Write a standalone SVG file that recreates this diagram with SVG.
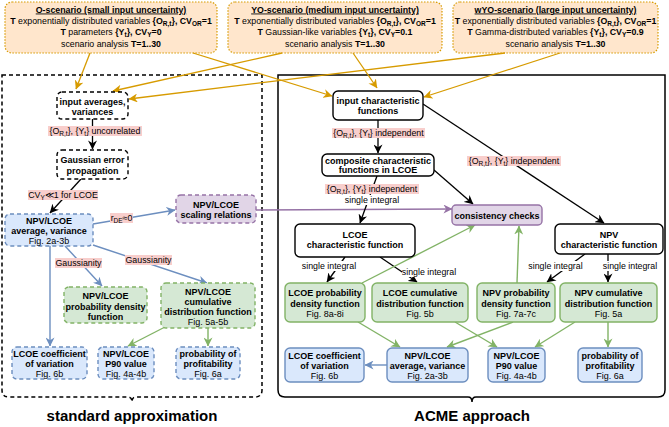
<svg xmlns="http://www.w3.org/2000/svg" width="669" height="427" viewBox="0 0 669 427">
<style>
text{font-family:"Liberation Sans",Arial,Helvetica,sans-serif;fill:#000}
.sc{font-size:8.8px;text-anchor:middle}
.b{font-weight:bold}
.n{font-size:9px;font-weight:bold;text-anchor:middle}
.f{font-weight:normal}
.lb{font-size:8.8px;text-anchor:middle}
.big{font-size:15px;font-weight:bold;text-anchor:middle}
.scen{fill:#ffe6cc;stroke:#d79b00;stroke-width:1.2;stroke-dasharray:1.5 1.5}
.kd{fill:#fff;stroke:#000;stroke-width:1.4;stroke-dasharray:4 3}
.ks{fill:#fff;stroke:#000;stroke-width:1.4}
.bd{fill:#dae8fc;stroke:#6c8ebf;stroke-width:1.4;stroke-dasharray:4 3}
.bs{fill:#dae8fc;stroke:#6c8ebf;stroke-width:1.4}
.gd{fill:#d5e8d4;stroke:#82b366;stroke-width:1.4;stroke-dasharray:4 3}
.gs{fill:#d5e8d4;stroke:#82b366;stroke-width:1.4}
.pd{fill:#e1d5e7;stroke:#9673a6;stroke-width:1.4;stroke-dasharray:4 3}
.ps{fill:#e1d5e7;stroke:#9673a6;stroke-width:1.4}
.eo{stroke:#d79b00;stroke-width:1.3;fill:none;marker-end:url(#mo)}
.ek{stroke:#000;stroke-width:1.3;fill:none;marker-end:url(#mk)}
.eb{stroke:#6c8ebf;stroke-width:1.4;fill:none;marker-end:url(#mb)}
.eg{stroke:#82b366;stroke-width:1.4;fill:none;marker-end:url(#mg)}
.ep{stroke:#9673a6;stroke-width:1.4;fill:none;marker-end:url(#mp)}
.pk{fill:#f8cecc}
.wh{fill:#fff}
</style>
<defs>
<marker id="mo" viewBox="0 0 10 10" refX="9.5" refY="5" markerWidth="9" markerHeight="9" orient="auto" markerUnits="userSpaceOnUse"><path d="M0,0 L10,5 L0,10 L3,5 z" fill="#d79b00"/></marker>
<marker id="mk" viewBox="0 0 10 10" refX="9.5" refY="5" markerWidth="9" markerHeight="9" orient="auto" markerUnits="userSpaceOnUse"><path d="M0,0 L10,5 L0,10 L3,5 z" fill="#000"/></marker>
<marker id="mb" viewBox="0 0 10 10" refX="9.5" refY="5" markerWidth="9" markerHeight="9" orient="auto" markerUnits="userSpaceOnUse"><path d="M0,0 L10,5 L0,10 L3,5 z" fill="#6c8ebf"/></marker>
<marker id="mg" viewBox="0 0 10 10" refX="9.5" refY="5" markerWidth="9" markerHeight="9" orient="auto" markerUnits="userSpaceOnUse"><path d="M0,0 L10,5 L0,10 L3,5 z" fill="#82b366"/></marker>
<marker id="mp" viewBox="0 0 10 10" refX="9.5" refY="5" markerWidth="9" markerHeight="9" orient="auto" markerUnits="userSpaceOnUse"><path d="M0,0 L10,5 L0,10 L3,5 z" fill="#9673a6"/></marker>
</defs>
<rect width="669" height="427" fill="#fff"/>

<g id="panels">
<path d="M2,75 H262 V390 Q262,397 255,397 H136 Q132,397 132,402 Q132,397 128,397 H9 Q2,397 2,390 Z" fill="none" stroke="#000" stroke-width="1.5" stroke-dasharray="4 3"/>
<path d="M278,75 H665 V390 Q665,397 658,397 H476 Q472,397 472,402 Q472,397 468,397 H285 Q278,397 278,390 Z" fill="none" stroke="#000" stroke-width="1.5"/>
<text class="big" x="132" y="421">standard approximation</text>
<text class="big" x="472" y="421">ACME approach</text>
</g>

<g id="scenario-O">
<rect class="scen" x="5" y="2" width="212" height="51" rx="7"/>
<text class="sc b" x="111" y="12.5" text-decoration="underline">O-scenario (small input uncertainty)</text>
<text class="sc" x="111" y="23.5"><tspan class="b">T</tspan> exponentially distributed variables <tspan class="b">{O<tspan font-size="6.5" dy="2">R,t</tspan><tspan dy="-2">}, CV</tspan><tspan font-size="6.5" dy="2">OR</tspan><tspan dy="-2">=1</tspan></tspan></text>
<text class="sc" x="111" y="35"><tspan class="b">T</tspan> parameters <tspan class="b">{Y<tspan font-size="6.5" dy="2">t</tspan><tspan dy="-2">}, CV</tspan><tspan font-size="6.5" dy="2">Y</tspan><tspan dy="-2">=0</tspan></tspan></text>
<text class="sc" x="111" y="47">scenario analysis <tspan class="b">T=1..30</tspan></text>
</g>
<g id="scenario-YO">
<rect class="scen" x="228" y="2" width="214" height="51" rx="7"/>
<text class="sc b" x="335" y="12.5" text-decoration="underline">YO-scenario (medium input uncertainty)</text>
<text class="sc" x="335" y="23.5"><tspan class="b">T</tspan> exponentially distributed variables <tspan class="b">{O<tspan font-size="6.5" dy="2">R,t</tspan><tspan dy="-2">}, CV</tspan><tspan font-size="6.5" dy="2">OR</tspan><tspan dy="-2">=1</tspan></tspan></text>
<text class="sc" x="335" y="35"><tspan class="b">T</tspan> Gaussian-like variables <tspan class="b">{Y<tspan font-size="6.5" dy="2">t</tspan><tspan dy="-2">}, CV</tspan><tspan font-size="6.5" dy="2">Y</tspan><tspan dy="-2">=0.1</tspan></tspan></text>
<text class="sc" x="335" y="47">scenario analysis <tspan class="b">T=1..30</tspan></text>
</g>
<g id="scenario-wYO">
<rect class="scen" x="453" y="2" width="205" height="51" rx="7"/>
<text class="sc b" x="555.5" y="12.5" text-decoration="underline">wYO-scenario (large input uncertainty)</text>
<text class="sc" x="555.5" y="23.5"><tspan class="b">T</tspan> exponentially distributed variables <tspan class="b">{O<tspan font-size="6.5" dy="2">R,t</tspan><tspan dy="-2">}, CV</tspan><tspan font-size="6.5" dy="2">OR</tspan><tspan dy="-2">=1</tspan></tspan></text>
<text class="sc" x="555.5" y="35"><tspan class="b">T</tspan> Gamma-distributed variables <tspan class="b">{Y<tspan font-size="6.5" dy="2">t</tspan><tspan dy="-2">}, CV</tspan><tspan font-size="6.5" dy="2">Y</tspan><tspan dy="-2">=0.9</tspan></tspan></text>
<text class="sc" x="555.5" y="47">scenario analysis <tspan class="b">T=1..30</tspan></text>
</g>

<g id="connectors">
<!-- orange -->
<path class="eo" d="M90,53 L76,89"/>
<path class="eo" d="M282,53 L113,91"/>
<path class="eo" d="M505,53 L129,99"/>
<path class="eo" d="M193,53 L332,96"/>
<path class="eo" d="M353,53 L377,88"/>
<path class="eo" d="M560,53 L424,97"/>
<!-- left black -->
<path class="ek" d="M92.5,119 L92.5,149"/>
<path class="ek" d="M81,179 L50,213"/>
<!-- left blue -->
<path class="eb" d="M93,224 L175,210"/>
<path class="eb" d="M50,246 L50,346"/>
<path class="eb" d="M65,246 L102,286"/>
<path class="eb" d="M93,245 L207,283"/>
<!-- purple -->
<path class="ep" d="M256,210 L452,209"/>
<!-- left green -->
<path class="eg" d="M165,327 L128,346"/>
<path class="eg" d="M208,328 L208,346"/>
<!-- right black -->
<path class="ek" d="M378,120 L378,153"/>
<path class="ek" d="M377,176 L360,223"/>
<path class="ek" d="M423,104 L604,223"/>
<path class="ek" d="M434,170 L473,204"/>
<path class="ek" d="M345,257 L327,282"/>
<path class="ek" d="M380,257 L417,282"/>
<path class="ek" d="M585,254 L547,282"/>
<path class="ek" d="M608,254 L608,282"/>
<!-- right green -->
<path class="eg" d="M362,283 L475,225"/>
<path class="eg" d="M517,283 L519,226"/>
<path class="eg" d="M358,322 L400,347"/>
<path class="eg" d="M513,322 L447,347"/>
<path class="eg" d="M455,322 L497,347"/>
<path class="eg" d="M575,322 L535,347"/>
<path class="eg" d="M608,322 L608,347"/>
<!-- right blue -->
<path class="eb" d="M387,365 L365,365"/>

<!-- labels -->
<rect class="pk" x="48" y="126" width="94" height="10"/>
<text class="lb" x="95" y="134">{O<tspan font-size="6.5" dy="2">R,t</tspan><tspan dy="-2">}, {Y</tspan><tspan font-size="6.5" dy="2">t</tspan><tspan dy="-2">} uncorrelated</tspan></text>
<rect class="pk" x="28" y="190" width="70" height="10"/>
<text class="lb" x="63" y="198">CV<tspan font-size="6.5" dy="2">Y</tspan><tspan dy="-2">≪1 for LCOE</tspan></text>
<rect class="pk" x="110" y="213" width="23" height="10"/>
<text class="lb" x="121.5" y="221">r<tspan font-size="6.5" dy="2">DE</tspan><tspan dy="-2">≈0</tspan></text>
<rect class="pk" x="55" y="258" width="47" height="10"/>
<text class="lb" x="78.5" y="266">Gaussianity</text>
<rect class="pk" x="125" y="255" width="47" height="10"/>
<text class="lb" x="148.5" y="263">Gaussianity</text>
<rect class="pk" x="332" y="128" width="93" height="10"/>
<text class="lb" x="378.5" y="136">{O<tspan font-size="6.5" dy="2">R,t</tspan><tspan dy="-2">}, {Y</tspan><tspan font-size="6.5" dy="2">t</tspan><tspan dy="-2">} independent</tspan></text>
<rect class="pk" x="325" y="184" width="94" height="10"/>
<text class="lb" x="372" y="192">{O<tspan font-size="6.5" dy="2">R,t</tspan><tspan dy="-2">}, {Y</tspan><tspan font-size="6.5" dy="2">t</tspan><tspan dy="-2">} independent</tspan></text>
<rect class="wh" x="345" y="195" width="54" height="10"/>
<text class="lb" x="372" y="202.5">single integral</text>
<rect class="pk" x="467" y="156" width="94" height="10"/>
<text class="lb" x="514" y="164">{O<tspan font-size="6.5" dy="2">R,t</tspan><tspan dy="-2">}, {Y</tspan><tspan font-size="6.5" dy="2">t</tspan><tspan dy="-2">} independent</tspan></text>
<rect class="wh" x="302" y="261" width="54" height="10"/>
<text class="lb" x="329" y="268.5">single integral</text>
<rect class="wh" x="402" y="267" width="54" height="10"/>
<text class="lb" x="429" y="274.5">single integral</text>
<rect class="wh" x="528" y="261" width="55" height="10"/>
<text class="lb" x="555.5" y="268.5">single integral</text>
<rect class="wh" x="603" y="261" width="54" height="10"/>
<text class="lb" x="630" y="268.5">single integral</text>
</g>

<g id="n-input-averages"><rect class="kd" x="57" y="92" width="71" height="27" rx="5"/><text class="n" x="92.5" y="104.5">input averages,</text><text class="n" x="92.5" y="114.5">variances</text></g>
<g id="n-gauss-error"><rect class="kd" x="57" y="150" width="71" height="29" rx="5"/><text class="n" x="92.5" y="163">Gaussian error</text><text class="n" x="92.5" y="173.5">propagation</text></g>
<g id="n-avg-left"><rect class="bd" x="5" y="214" width="88" height="32" rx="5"/><text class="n" x="49" y="223.5">NPV/LCOE</text><text class="n" x="49" y="234">average, variance</text><text class="n f" x="49" y="244">Fig. 2a-3b</text></g>
<g id="n-scaling"><rect class="pd" x="176" y="195" width="80" height="28" rx="5"/><text class="n" x="216" y="207.5">NPV/LCOE</text><text class="n" x="216" y="217.5">scaling relations</text></g>
<g id="n-pdf-left"><rect class="gd" x="64" y="287" width="83" height="36" rx="5"/><text class="n" x="105.5" y="299">NPV/LCOE</text><text class="n" x="105.5" y="309.5">probability density</text><text class="n" x="105.5" y="320">function</text></g>
<g id="n-cdf-left"><rect class="gd" x="161" y="283" width="94" height="45" rx="5"/><text class="n" x="208" y="294.5">NPV/LCOE</text><text class="n" x="208" y="304.5">cumulative</text><text class="n" x="208" y="315">distribution function</text><text class="n f" x="208" y="324.5">Fig. 5a-5b</text></g>
<g id="n-coef-left"><rect class="bd" x="12" y="347" width="75" height="32" rx="5"/><text class="n" x="49.5" y="357">LCOE coefficient</text><text class="n" x="49.5" y="367">of variation</text><text class="n f" x="49.5" y="377">Fig. 6b</text></g>
<g id="n-p90-left"><rect class="bd" x="98" y="347" width="56" height="32" rx="5"/><text class="n" x="126" y="357">NPV/LCOE</text><text class="n" x="126" y="367">P90 value</text><text class="n f" x="126" y="377">Fig. 4a-4b</text></g>
<g id="n-prob-left"><rect class="bd" x="176" y="347" width="64" height="32" rx="5"/><text class="n" x="208" y="357">probability of</text><text class="n" x="208" y="367">profitability</text><text class="n f" x="208" y="377">Fig. 6a</text></g>

<g id="n-input-char"><rect class="ks" x="333" y="91" width="90" height="29" rx="5"/><text class="n" x="378" y="103.5">input characteristic</text><text class="n" x="378" y="114">functions</text></g>
<g id="n-composite"><rect class="ks" x="322" y="154" width="112" height="22" rx="5"/><text class="n" x="378" y="163.5">composite characteristic</text><text class="n" x="378" y="173">functions in LCOE</text></g>
<g id="n-consistency"><rect class="ps" x="452" y="205" width="90" height="20" rx="4"/><text class="n" x="497" y="218.5">consistency checks</text></g>
<g id="n-lcoe-char"><rect class="ks" x="295" y="224" width="120" height="33" rx="5"/><text class="n" x="355" y="237.5">LCOE</text><text class="n" x="355" y="247.5">characteristic function</text></g>
<g id="n-npv-char"><rect class="ks" x="555" y="224" width="108" height="30" rx="5"/><text class="n" x="609" y="237.5">NPV</text><text class="n" x="609" y="247.5">characteristic function</text></g>
<g id="n-lcoe-pdf"><rect class="gs" x="285" y="283" width="80" height="39" rx="5"/><text class="n" x="325" y="296">LCOE probability</text><text class="n" x="325" y="306.5">density function</text><text class="n f" x="325" y="317">Fig. 8a-8i</text></g>
<g id="n-lcoe-cdf"><rect class="gs" x="372" y="283" width="96" height="39" rx="5"/><text class="n" x="420" y="296">LCOE cumulative</text><text class="n" x="420" y="306.5">distribution function</text><text class="n f" x="420" y="317">Fig. 5b</text></g>
<g id="n-npv-pdf"><rect class="gs" x="477" y="283" width="78" height="39" rx="5"/><text class="n" x="516" y="296">NPV probability</text><text class="n" x="516" y="306.5">density function</text><text class="n f" x="516" y="317">Fig. 7a-7c</text></g>
<g id="n-npv-cdf"><rect class="gs" x="560" y="283" width="97" height="39" rx="5"/><text class="n" x="608.5" y="296">NPV cumulative</text><text class="n" x="608.5" y="306.5">distribution function</text><text class="n f" x="608.5" y="317">Fig. 5a</text></g>
<g id="n-coef-right"><rect class="bs" x="285" y="348" width="79" height="34" rx="5"/><text class="n" x="324.5" y="359">LCOE coefficient</text><text class="n" x="324.5" y="369">of variation</text><text class="n f" x="324.5" y="379">Fig. 6b</text></g>
<g id="n-avg-right"><rect class="bs" x="387" y="348" width="81" height="34" rx="5"/><text class="n" x="427.5" y="359">NPV/LCOE</text><text class="n" x="427.5" y="369">average, variance</text><text class="n f" x="427.5" y="379">Fig. 2a-3b</text></g>
<g id="n-p90-right"><rect class="bs" x="488" y="348" width="57" height="34" rx="5"/><text class="n" x="516.5" y="359">NPV/LCOE</text><text class="n" x="516.5" y="369">P90 value</text><text class="n f" x="516.5" y="379">Fig. 4a-4b</text></g>
<g id="n-prob-right"><rect class="bs" x="578" y="348" width="64" height="34" rx="5"/><text class="n" x="610" y="359">probability of</text><text class="n" x="610" y="369">profitability</text><text class="n f" x="610" y="379">Fig. 6a</text></g>
</svg>
